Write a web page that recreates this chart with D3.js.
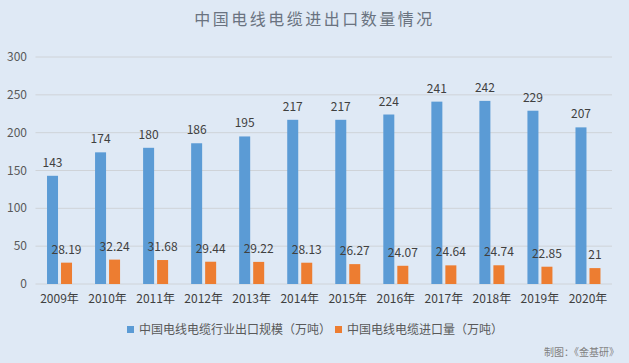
<!DOCTYPE html>
<html>
<head>
<meta charset="utf-8">
<script src="https://cdn.jsdelivr.net/npm/d3@7"></script>
<style>
  body { margin: 0; background: #dfe9f5; }
  svg { display: block; font-family: "Microsoft YaHei", "Noto Sans CJK SC", sans-serif; }
</style>
</head>
<body>
<div id="chart"></div>
<script>
// Data
const years = ["2009年", "2010年", "2011年", "2012年", "2013年", "2014年", "2015年", "2016年", "2017年", "2018年", "2019年", "2020年"];
const exportScale = [143, 174, 180, 186, 195, 217, 217, 224, 241, 242, 229, 207];
const importVolume = [28.19, 32.24, 31.68, 29.44, 29.22, 28.13, 26.27, 24.07, 24.64, 24.74, 22.85, 21];
const seriesNames = ["中国电线电缆行业出口规模（万吨）", "中国电线电缆进口量（万吨）"];
const yTicks = [0, 50, 100, 150, 200, 250, 300];

const width = 629, height = 363;
const margin = { top: 57, right: 17, bottom: 79, left: 35.5 };
const colors = ["#5b9bd5", "#ed7d31"];

const svg = d3.select("#chart").append("svg")
  .attr("width", width)
  .attr("height", height);

svg.append("rect").attr("width", width).attr("height", height).attr("fill", "#dfe9f5");

// Title
svg.append("text")
  .attr("x", width / 2).attr("y", 25)
  .attr("text-anchor", "middle")
  .attr("font-size", 16)
  .attr("letter-spacing", 2.5)
  .attr("fill", "#6a7380")
  .text("中国电线电缆进出口数量情况");

const x = d3.scaleBand()
  .domain(years)
  .range([margin.left, width - margin.right]);

const y = d3.scaleLinear()
  .domain([0, 300])
  .range([height - margin.bottom, margin.top]);

// Gridlines
svg.append("g")
  .selectAll("line")
  .data(yTicks)
  .join("line")
  .attr("x1", margin.left).attr("x2", width - margin.right)
  .attr("y1", d => y(d)).attr("y2", d => y(d))
  .attr("stroke", "#cfd3d8")
  .attr("stroke-width", 1);

// Y axis labels
svg.append("g")
  .selectAll("text")
  .data(yTicks)
  .join("text")
  .attr("x", 27).attr("y", d => y(d) + 4)
  .attr("text-anchor", "end")
  .attr("font-size", 12)
  .attr("fill", "#595959")
  .text(d => d);

// X axis labels
svg.append("g")
  .selectAll("text")
  .data(years)
  .join("text")
  .attr("x", d => x(d) + x.bandwidth() / 2)
  .attr("y", height - margin.bottom + 19)
  .attr("text-anchor", "middle")
  .attr("font-size", 12)
  .attr("fill", "#404040")
  .text(d => d);

const barW = 11, gap = 3;
const series = [exportScale, importVolume];

series.forEach((vals, s) => {
  const offset = s === 0 ? -gap / 2 - barW : gap / 2;
  const g = svg.append("g");
  g.selectAll("rect")
    .data(vals)
    .join("rect")
    .attr("x", (d, i) => x(years[i]) + x.bandwidth() / 2 + offset)
    .attr("y", d => y(d))
    .attr("width", barW)
    .attr("height", d => y(0) - y(d))
    .attr("fill", colors[s]);
  g.selectAll("text")
    .data(vals)
    .join("text")
    .attr("x", (d, i) => x(years[i]) + x.bandwidth() / 2 + offset + barW / 2)
    .attr("y", d => y(d) - 9)
    .attr("text-anchor", "middle")
    .attr("font-size", 12)
    .attr("fill", "#404040")
    .text(d => d);
});

// Legend
const legend = svg.append("g").attr("font-size", 12).attr("fill", "#595959");
const legendX = [127, 335];
seriesNames.forEach((name, i) => {
  legend.append("rect")
    .attr("x", legendX[i]).attr("y", 326)
    .attr("width", 7).attr("height", 7)
    .attr("fill", colors[i]);
  legend.append("text")
    .attr("x", legendX[i] + 12).attr("y", 334)
    .text(name);
});

// Source
svg.append("text")
  .attr("x", 619).attr("y", 356)
  .attr("text-anchor", "end")
  .attr("font-size", 10)
  .attr("fill", "#7f7f7f")
  .text("制图：《金基研》");
</script>
</body>
</html>
